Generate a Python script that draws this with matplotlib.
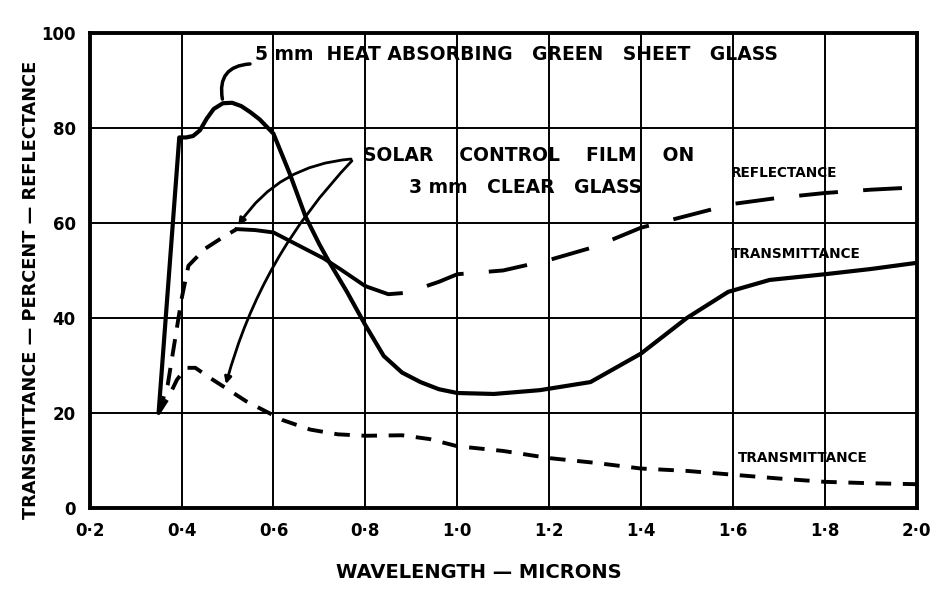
import matplotlib
matplotlib.use("Agg")
import matplotlib.pyplot as plt

# ---- data ----
glass_x = [0.35, 0.395, 0.41, 0.425, 0.44, 0.455, 0.47, 0.49, 0.51, 0.53, 0.55, 0.57, 0.60,
           0.635, 0.67, 0.70, 0.72, 0.76, 0.80, 0.84, 0.88, 0.92, 0.96, 1.00, 1.08, 1.18,
           1.29, 1.40, 1.50, 1.59, 1.68, 1.80, 1.90, 2.00]
glass_y = [20, 78, 78, 78.3, 79.5, 82, 84, 85.2, 85.3, 84.6, 83.3, 81.8, 78.8,
           70.5, 61.3, 55.5, 52, 45.5, 38.5, 32, 28.5, 26.5, 25, 24.2, 24, 24.8,
           26.5, 32.5, 40, 45.5, 48, 49.2, 50.3, 51.6]

refl_x = [0.35, 0.37, 0.385, 0.40, 0.415, 0.45, 0.49, 0.52, 0.56, 0.60, 0.64, 0.71, 0.745, 0.80,
          0.85, 0.89, 0.96, 1.00, 1.10, 1.20, 1.30, 1.40, 1.50, 1.60, 1.70, 1.80, 1.90, 2.00]
refl_y = [20, 26, 35, 44, 51, 54.5, 57, 58.7, 58.5, 58, 56, 52.5, 50.3, 46.7,
          45, 45.3, 47.6, 49.2, 50, 52.2, 55, 59, 61.5, 64, 65.3, 66.3, 67, 67.5]
refl_solid_from, refl_solid_to = 0.52, 0.80   # portion printed as a continuous stroke

trans_x = [0.35, 0.37, 0.39, 0.41, 0.43, 0.46, 0.50, 0.54, 0.58, 0.62, 0.68, 0.74, 0.80, 0.88,
           0.94, 1.00, 1.10, 1.20, 1.30, 1.40, 1.50, 1.60, 1.70, 1.80, 1.90, 2.00]
trans_y = [20, 23, 27, 29.5, 29.5, 27.5, 25, 22.5, 20.5, 18.5, 16.5, 15.5, 15.2, 15.3,
           14.5, 13, 12, 10.5, 9.5, 8.3, 7.8, 7, 6.2, 5.5, 5.2, 5]

x_ticks = [0.2, 0.4, 0.6, 0.8, 1.0, 1.2, 1.4, 1.6, 1.8, 2.0]
x_tick_labels = ["0·2", "0·4", "0·6", "0·8", "1·0", "1·2", "1·4", "1·6", "1·8", "2·0"]
y_ticks = [0, 20, 40, 60, 80, 100]
y_tick_labels = ["0", "20", "40", "60", "80", "100"]

FONT = "DejaVu Sans"

fig = plt.figure(figsize=(9.44, 5.99), dpi=100)
ax = fig.add_axes([0.095, 0.152, 0.876, 0.793])
ax.set_xlim(0.2, 2.0)
ax.set_ylim(0, 100)
ax.set_xticks(x_ticks)
ax.set_xticklabels(x_tick_labels, fontsize=12, fontweight="bold", family=FONT)
ax.set_yticks(y_ticks)
ax.set_yticklabels(y_tick_labels, fontsize=12, fontweight="bold", family=FONT)
ax.tick_params(length=0, pad=10)
ax.grid(True, color="black", linewidth=1.4)
ax.set_axisbelow(True)
for s in ax.spines.values():
    s.set_linewidth(2.8)

# green glass transmittance
ax.plot(glass_x, glass_y, color="black", linewidth=3.0, solid_capstyle="round",
        solid_joinstyle="round", zorder=3)

# film reflectance: long dashes, with the middle stretch printed solid
i0 = refl_x.index(refl_solid_from)
i1 = refl_x.index(refl_solid_to)
l1, = ax.plot(refl_x[:i0 + 1], refl_y[:i0 + 1], color="black", linewidth=2.8, zorder=3)
l1.set_dashes([4.5, 3])
ax.plot(refl_x[i0:i1 + 1], refl_y[i0:i1 + 1], color="black", linewidth=2.8,
        solid_joinstyle="round", zorder=3)
l2, = ax.plot(refl_x[i1:], refl_y[i1:], color="black", linewidth=2.8, zorder=3)
l2.set_dashes([10, 6.5])

# film transmittance: short dashes
l3, = ax.plot(trans_x, trans_y, color="black", linewidth=2.8, zorder=3)
l3.set_dashes([4, 3])

# annotations
ax.text(0.56, 95.5, "5 mm  HEAT ABSORBING   GREEN   SHEET   GLASS", fontsize=13.5,
        fontweight="bold", family=FONT, va="center", ha="left")
ax.annotate("", xy=(0.49, 85.5), xytext=(0.555, 93.5),
            arrowprops=dict(arrowstyle="-", lw=2.5, color="black",
                            connectionstyle="arc3,rad=0.6"))
ax.text(0.795, 74.3, "SOLAR    CONTROL    FILM    ON", fontsize=13.5, fontweight="bold",
        family=FONT, va="center", ha="left")
ax.text(0.895, 67.5, "3 mm   CLEAR   GLASS", fontsize=13.5, fontweight="bold",
        family=FONT, va="center", ha="left")
ax.annotate("", xy=(0.52, 59), xytext=(0.775, 73.5),
            arrowprops=dict(arrowstyle="-|>", lw=2.0, color="black", mutation_scale=10,
                            connectionstyle="arc3,rad=0.25"))
ax.annotate("", xy=(0.495, 25.5), xytext=(0.775, 73.5),
            arrowprops=dict(arrowstyle="-|>", lw=2.0, color="black", mutation_scale=10,
                            connectionstyle="arc3,rad=0.13"))

ax.text(1.595, 70.5, "REFLECTANCE", fontsize=9.8, fontweight="bold", family=FONT,
        va="center", ha="left")
ax.text(1.595, 53.5, "TRANSMITTANCE", fontsize=9.8, fontweight="bold", family=FONT,
        va="center", ha="left")
ax.text(1.61, 10.5, "TRANSMITTANCE", fontsize=9.8, fontweight="bold", family=FONT,
        va="center", ha="left")

ax.set_xlabel("WAVELENGTH — MICRONS", fontsize=14, fontweight="bold", family=FONT)
ax.xaxis.set_label_coords(0.47, -0.115)
ax.set_ylabel("TRANSMITTANCE — PERCENT — REFLECTANCE", fontsize=12.8, fontweight="bold",
              family=FONT)
ax.yaxis.set_label_coords(-0.06, 0.46)

fig.savefig("out.png", dpi=100)
